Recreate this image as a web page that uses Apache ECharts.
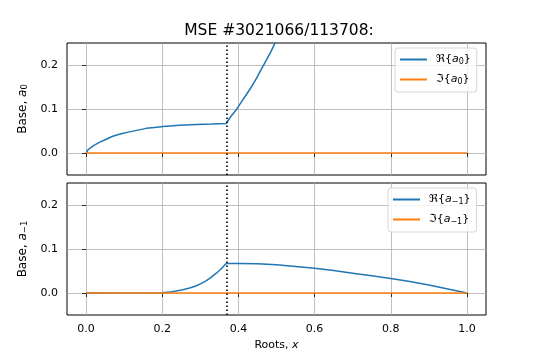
<!DOCTYPE html>
<html><head><meta charset="utf-8">
<script src="https://cdn.jsdelivr.net/npm/echarts@6/dist/echarts.min.js"></script>
<style>html,body{margin:0;padding:0;background:#fff}#c{width:540px;height:360px}</style>
</head><body><div id="c"></div>
<script>
const titleText = 'MSE #3021066/113708:';
const xTicks = [0, 0.2, 0.4, 0.6, 0.8, 1.0];
const yTicks = [0, 0.1, 0.2];
const dividerX = [0.3679];

const xA0 = [0, 0.005, 0.012, 0.022, 0.035, 0.05, 0.07, 0.09, 0.114, 0.136, 0.158, 0.18, 0.202, 0.246, 0.29, 0.33, 0.3679, 0.38, 0.395, 0.408, 0.421, 0.434, 0.447, 0.46, 0.474, 0.485, 0.495, 0.51, 0.525];
const reA0 = [0, 0.007, 0.012, 0.018, 0.024, 0.030, 0.038, 0.043, 0.048, 0.052, 0.056, 0.058, 0.060, 0.063, 0.065, 0.066, 0.067, 0.083, 0.099, 0.116, 0.133, 0.150, 0.169, 0.190, 0.212, 0.230, 0.248, 0.276, 0.305];

const xImag = [0, 1];
const imA0 = [0, 0];

const xAm1 = [0, 0.2, 0.219, 0.236, 0.254, 0.272, 0.29, 0.303, 0.316, 0.329, 0.342, 0.355, 0.3679, 0.4, 0.45, 0.5, 0.55, 0.6, 0.65, 0.7, 0.75, 0.8, 0.85, 0.9, 0.95, 1.0];
const reAm1 = [0, 0.0005, 0.002, 0.0045, 0.0075, 0.0115, 0.0165, 0.022, 0.028, 0.036, 0.045, 0.055, 0.067, 0.0668, 0.0662, 0.064, 0.0605, 0.0565, 0.051, 0.045, 0.039, 0.033, 0.026, 0.018, 0.009, 0];
const imAm1 = [0, 0];

const legendTopNames = ['Re a0', 'Im a0'];
const legendBotNames = ['Re a-1', 'Im a-1'];
const legendLabels = {
  'Re a0': '{t|ℜ{}{i|a}{s|0}{t|}}',
  'Im a0': '{t|ℑ{}{i|a}{s|0}{t|}}',
  'Re a-1': '{t|ℜ{}{i|a}{s|−1}{t|}}',
  'Im a-1': '{t|ℑ{}{i|a}{s|−1}{t|}}'
};

const FONT = 'DejaVu Sans';
const BLUE = '#1f77b4', ORANGE = '#ff7f0e';
const pairs = (xs, ys) => xs.map((x, i) => [x, ys[i]]);

const legendRich = {
  t: { fontFamily: FONT, fontSize: 11, color: '#000' },
  i: { fontFamily: FONT, fontSize: 11, fontStyle: 'italic', color: '#000' },
  s: { fontFamily: FONT, fontSize: 8, color: '#000', padding: [5, 0, 0, 0] }
};

function xAxisCfg(idx, showLabels) {
  return {
    gridIndex: idx, type: 'value', min: -0.05, max: 1.05,
    axisLine: { show: false },
    axisTick: { show: true, inside: false, length: 4, customValues: xTicks, lineStyle: { color: '#000', width: 0.8 } },
    axisLabel: { show: showLabels, customValues: xTicks, margin: 9, fontFamily: FONT, fontSize: 11, color: '#000',
      formatter: v => v.toFixed(1) },
    splitLine: { show: true, customValues: xTicks, lineStyle: { color: '#b0b0b0', width: 0.8 } },
    name: showLabels ? '{t|Roots, }{i|x}' : '',
    nameLocation: 'middle', nameGap: 25,
    nameTextStyle: { rich: { t: { fontFamily: FONT, fontSize: 11, color: '#000' }, i: { fontFamily: FONT, fontSize: 11, fontStyle: 'italic', color: '#000' } } }
  };
}
function yAxisCfg(idx, sub) {
  return {
    gridIndex: idx, type: 'value', min: -0.05, max: 0.25,
    axisLine: { show: false },
    axisTick: { show: true, inside: false, length: 4, customValues: yTicks, lineStyle: { color: '#000', width: 0.8 } },
    axisLabel: { customValues: yTicks, margin: 9, fontFamily: FONT, fontSize: 11, color: '#000',
      formatter: v => v.toFixed(1) },
    splitLine: { show: true, customValues: yTicks, lineStyle: { color: '#b0b0b0', width: 0.8 } },
    name: '{t|Base, }{i|a}{s|' + sub + '}',
    nameLocation: 'middle', nameRotate: 90, nameGap: 31,
    nameTextStyle: { rich: {
      t: { fontFamily: FONT, fontSize: 12, color: '#000' },
      i: { fontFamily: FONT, fontSize: 12, fontStyle: 'italic', color: '#000' },
      s: { fontFamily: FONT, fontSize: 8.5, color: '#000', padding: [5, 0, 0, 0] } } }
  };
}
function legendCfg(names, left, top) {
  return {
    data: names, orient: 'vertical', left: left, top: top,
    icon: 'rect', itemWidth: 27, itemHeight: 2, itemGap: 8,
    padding: [6, 6, 6, 5],
    backgroundColor: 'rgba(255,255,255,0.8)', borderColor: '#d6d6d6', borderWidth: 1, borderRadius: 3,
    formatter: n => legendLabels[n],
    textStyle: { fontFamily: FONT, fontSize: 11, color: '#000', padding: [0, 0, 0, 4], rich: legendRich }
  };
}

const markDivider = {
  silent: true, symbol: ['none', 'none'], animation: false,
  label: { show: false },
  lineStyle: { color: '#000', type: [1.5, 2.5], width: 1.6 },
  data: [{ xAxis: dividerX[0] }]
};

const chart = echarts.init(document.getElementById('c'), null, { renderer: 'canvas' });
chart.setOption({
  animation: false,
  backgroundColor: '#fff',
  graphic: [{ type: 'text', x: 279, y: 31, style: { text: titleText, fontFamily: FONT, fontSize: 15.5, fill: '#000', align: 'center', verticalAlign: 'middle' } }],
  grid: [
    { left: 67, top: 43, width: 419, height: 132, show: true, borderColor: '#000', borderWidth: 1, backgroundColor: '#fff' },
    { left: 67, top: 183, width: 419, height: 132, show: true, borderColor: '#000', borderWidth: 1, backgroundColor: '#fff' }
  ],
  xAxis: [xAxisCfg(0, false), xAxisCfg(1, true)],
  yAxis: [yAxisCfg(0, '0'), yAxisCfg(1, '−1')],
  legend: [legendCfg(legendTopNames, 395, 48), legendCfg(legendBotNames, 388, 188)],
  series: [
    { name: 'Re a0', type: 'line', xAxisIndex: 0, yAxisIndex: 0, data: pairs(xA0, reA0), showSymbol: false, symbol: 'none', clip: true,
      lineStyle: { color: BLUE, width: 1.5 }, itemStyle: { color: BLUE }, markLine: markDivider },
    { name: 'Im a0', type: 'line', xAxisIndex: 0, yAxisIndex: 0, data: pairs(xImag, imA0), showSymbol: false, symbol: 'none',
      lineStyle: { color: ORANGE, width: 1.5 }, itemStyle: { color: ORANGE } },
    { name: 'Re a-1', type: 'line', xAxisIndex: 1, yAxisIndex: 1, data: pairs(xAm1, reAm1), showSymbol: false, symbol: 'none', clip: true,
      lineStyle: { color: BLUE, width: 1.5 }, itemStyle: { color: BLUE }, markLine: markDivider },
    { name: 'Im a-1', type: 'line', xAxisIndex: 1, yAxisIndex: 1, data: pairs(xImag, imAm1), showSymbol: false, symbol: 'none',
      lineStyle: { color: ORANGE, width: 1.5 }, itemStyle: { color: ORANGE } }
  ]
});
</script></body></html>
